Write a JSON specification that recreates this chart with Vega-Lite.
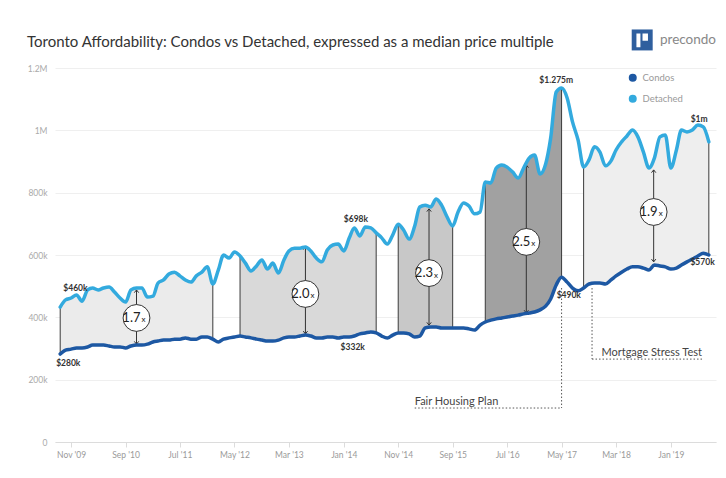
{
  "$schema": "https://vega.github.io/schema/vega-lite/v6.json",
  "width": 661,
  "height": 374,
  "autosize": {"type": "none"},
  "padding": {"left": 55, "top": 68, "right": 10, "bottom": 36},
  "background": "white",
  "config": {"font": "Lato", "view": {"stroke": null}},
  "title": {
    "text": "Toronto Affordability: Condos vs Detached, expressed as a median price multiple",
    "anchor": "start", "frame": "group", "dx": -28, "offset": 0, "dy": 36, "baseline": "bottom",
    "fontSize": 15, "fontWeight": "normal", "color": "#333333", "font": "Lato"
  },
  "datasets": {
    "prices": [
      {"d":"2009-09","Condos":282,"Detached":433,"band":"A"},
      {"d":"2009-10","Condos":295,"Detached":456,"band":"A"},
      {"d":"2009-11","Condos":298,"Detached":462,"band":"A"},
      {"d":"2009-12","Condos":302,"Detached":472,"band":"A"},
      {"d":"2010-01","Condos":302,"Detached":452,"band":"A"},
      {"d":"2010-02","Condos":305,"Detached":488,"band":"A"},
      {"d":"2010-03","Condos":311,"Detached":494,"band":"A"},
      {"d":"2010-04","Condos":311,"Detached":488,"band":"A"},
      {"d":"2010-05","Condos":311,"Detached":494,"band":"A"},
      {"d":"2010-06","Condos":308,"Detached":497,"band":"A"},
      {"d":"2010-07","Condos":305,"Detached":481,"band":"A"},
      {"d":"2010-08","Condos":305,"Detached":462,"band":"A"},
      {"d":"2010-09","Condos":302,"Detached":449,"band":"A"},
      {"d":"2010-10","Condos":308,"Detached":488,"band":"A"},
      {"d":"2010-11","Condos":311,"Detached":494,"band":"A"},
      {"d":"2010-12","Condos":311,"Detached":494,"band":"A"},
      {"d":"2011-01","Condos":314,"Detached":465,"band":"A"},
      {"d":"2011-02","Condos":321,"Detached":468,"band":"A"},
      {"d":"2011-03","Condos":324,"Detached":510,"band":"A"},
      {"d":"2011-04","Condos":327,"Detached":520,"band":"A"},
      {"d":"2011-05","Condos":327,"Detached":539,"band":"A"},
      {"d":"2011-06","Condos":330,"Detached":545,"band":"A"},
      {"d":"2011-07","Condos":330,"Detached":533,"band":"A"},
      {"d":"2011-08","Condos":334,"Detached":520,"band":"A"},
      {"d":"2011-09","Condos":330,"Detached":513,"band":"A"},
      {"d":"2011-10","Condos":330,"Detached":533,"band":"A"},
      {"d":"2011-11","Condos":337,"Detached":545,"band":"A"},
      {"d":"2011-12","Condos":337,"Detached":562,"band":"A"},
      {"d":"2012-01","Condos":330,"Detached":507,"band":"A"},
      {"d":"2012-02","Condos":321,"Detached":552},
      {"d":"2012-03","Condos":330,"Detached":600},
      {"d":"2012-04","Condos":334,"Detached":590},
      {"d":"2012-05","Condos":337,"Detached":610},
      {"d":"2012-06","Condos":340,"Detached":597,"band":"B"},
      {"d":"2012-07","Condos":337,"Detached":574,"band":"B"},
      {"d":"2012-08","Condos":334,"Detached":549,"band":"B"},
      {"d":"2012-09","Condos":330,"Detached":565,"band":"B"},
      {"d":"2012-10","Condos":327,"Detached":584,"band":"B"},
      {"d":"2012-11","Condos":324,"Detached":555,"band":"B"},
      {"d":"2012-12","Condos":324,"Detached":574,"band":"B"},
      {"d":"2013-01","Condos":327,"Detached":542,"band":"B"},
      {"d":"2013-02","Condos":334,"Detached":584,"band":"B"},
      {"d":"2013-03","Condos":337,"Detached":613,"band":"B"},
      {"d":"2013-04","Condos":337,"Detached":622,"band":"B"},
      {"d":"2013-05","Condos":340,"Detached":622,"band":"B"},
      {"d":"2013-06","Condos":343,"Detached":626,"band":"B"},
      {"d":"2013-07","Condos":340,"Detached":613,"band":"B"},
      {"d":"2013-08","Condos":334,"Detached":590,"band":"B"},
      {"d":"2013-09","Condos":334,"Detached":578,"band":"B"},
      {"d":"2013-10","Condos":337,"Detached":616,"band":"B"},
      {"d":"2013-11","Condos":337,"Detached":632,"band":"B"},
      {"d":"2013-12","Condos":334,"Detached":635,"band":"B"},
      {"d":"2014-01","Condos":337,"Detached":613,"band":"B"},
      {"d":"2014-02","Condos":337,"Detached":655,"band":"B"},
      {"d":"2014-03","Condos":340,"Detached":687,"band":"B"},
      {"d":"2014-04","Condos":347,"Detached":661,"band":"B"},
      {"d":"2014-05","Condos":350,"Detached":690,"band":"B"},
      {"d":"2014-06","Condos":353,"Detached":687,"band":"B"},
      {"d":"2014-07","Condos":350,"Detached":671,"band":"B"},
      {"d":"2014-08","Condos":340,"Detached":655},
      {"d":"2014-09","Condos":334,"Detached":635},
      {"d":"2014-10","Condos":343,"Detached":664},
      {"d":"2014-11","Condos":350,"Detached":699,"band":"C"},
      {"d":"2014-12","Condos":350,"Detached":680,"band":"C"},
      {"d":"2015-01","Condos":347,"Detached":651,"band":"C"},
      {"d":"2015-02","Condos":337,"Detached":693,"band":"C"},
      {"d":"2015-03","Condos":340,"Detached":754,"band":"C"},
      {"d":"2015-04","Condos":366,"Detached":760,"band":"C"},
      {"d":"2015-05","Condos":369,"Detached":754,"band":"C"},
      {"d":"2015-06","Condos":369,"Detached":780,"band":"C"},
      {"d":"2015-07","Condos":366,"Detached":760,"band":"C"},
      {"d":"2015-08","Condos":366,"Detached":722,"band":"C"},
      {"d":"2015-09","Condos":366,"Detached":693,"band":"C"},
      {"d":"2015-10","Condos":366,"Detached":738},
      {"d":"2015-11","Condos":366,"Detached":767},
      {"d":"2015-12","Condos":363,"Detached":757},
      {"d":"2016-01","Condos":359,"Detached":732},
      {"d":"2016-02","Condos":375,"Detached":738},
      {"d":"2016-03","Condos":385,"Detached":834,"band":"D"},
      {"d":"2016-04","Condos":391,"Detached":831,"band":"D"},
      {"d":"2016-05","Condos":395,"Detached":879,"band":"D"},
      {"d":"2016-06","Condos":398,"Detached":889,"band":"D"},
      {"d":"2016-07","Condos":401,"Detached":882,"band":"D"},
      {"d":"2016-08","Condos":404,"Detached":866,"band":"D"},
      {"d":"2016-09","Condos":407,"Detached":847,"band":"D"},
      {"d":"2016-10","Condos":411,"Detached":879,"band":"D"},
      {"d":"2016-11","Condos":414,"Detached":911,"band":"D"},
      {"d":"2016-12","Condos":417,"Detached":921,"band":"D"},
      {"d":"2017-01","Condos":424,"Detached":860,"band":"D"},
      {"d":"2017-02","Condos":436,"Detached":892,"band":"D"},
      {"d":"2017-03","Condos":459,"Detached":975,"band":"D"},
      {"d":"2017-04","Condos":504,"Detached":1123,"band":"D"},
      {"d":"2017-05","Condos":529,"Detached":1136,"band":"D"},
      {"d":"2017-06","Condos":513,"Detached":1104},
      {"d":"2017-07","Condos":494,"Detached":1027},
      {"d":"2017-08","Condos":485,"Detached":969},
      {"d":"2017-09","Condos":494,"Detached":882,"band":"E"},
      {"d":"2017-10","Condos":507,"Detached":905,"band":"E"},
      {"d":"2017-11","Condos":510,"Detached":947,"band":"E"},
      {"d":"2017-12","Condos":510,"Detached":930,"band":"E"},
      {"d":"2018-01","Condos":507,"Detached":886,"band":"E"},
      {"d":"2018-02","Condos":520,"Detached":902,"band":"E"},
      {"d":"2018-03","Condos":533,"Detached":937,"band":"E"},
      {"d":"2018-04","Condos":545,"Detached":963,"band":"E"},
      {"d":"2018-05","Condos":555,"Detached":982,"band":"E"},
      {"d":"2018-06","Condos":562,"Detached":1001,"band":"E"},
      {"d":"2018-07","Condos":562,"Detached":979,"band":"E"},
      {"d":"2018-08","Condos":558,"Detached":930,"band":"E"},
      {"d":"2018-09","Condos":552,"Detached":879,"band":"E"},
      {"d":"2018-10","Condos":568,"Detached":911,"band":"E"},
      {"d":"2018-11","Condos":565,"Detached":979,"band":"E"},
      {"d":"2018-12","Condos":562,"Detached":985,"band":"E"},
      {"d":"2019-01","Condos":555,"Detached":879,"band":"E"},
      {"d":"2019-02","Condos":558,"Detached":937,"band":"E"},
      {"d":"2019-03","Condos":568,"Detached":1001,"band":"E"},
      {"d":"2019-04","Condos":578,"Detached":995,"band":"E"},
      {"d":"2019-05","Condos":587,"Detached":1001,"band":"E"},
      {"d":"2019-06","Condos":597,"Detached":1017,"band":"E"},
      {"d":"2019-07","Condos":606,"Detached":1011,"band":"E"},
      {"d":"2019-08","Condos":600,"Detached":963,"band":"E"}
    ],
    "edges": [
      {"d":"2009-09"},{"d":"2012-01"},{"d":"2012-06"},{"d":"2014-07"},{"d":"2014-11"},
      {"d":"2015-09"},{"d":"2016-03"},{"d":"2017-05"},{"d":"2017-09"},{"d":"2019-08"}
    ],
    "multiples": [
      {"d":"2010-11-01","lo":314,"hi":488,"mid":398,"m":"1.7"},
      {"d":"2013-06-01","lo":347,"hi":626,"mid":475,"m":"2.0"},
      {"d":"2015-04-22","lo":375,"hi":748,"mid":542,"m":"2.3"},
      {"d":"2016-10-16","lo":414,"hi":889,"mid":642,"m":"2.5"},
      {"d":"2018-09-27","lo":578,"hi":873,"mid":738,"m":"1.9"}
    ],
    "labels": [
      {"d":"2009-11-25","v":494,"text":"$460k"},
      {"d":"2009-10-16","v":252,"text":"$280k"},
      {"d":"2014-03-10","v":715,"text":"$698k"},
      {"d":"2014-02-20","v":306,"text":"$332k"},
      {"d":"2017-04-01","v":1162,"text":"$1.275m"},
      {"d":"2017-06-10","v":471,"text":"$490k"},
      {"d":"2019-06-08","v":1035,"text":"$1m"},
      {"d":"2019-06-27","v":577,"text":"$570k"}
    ],
    "events": [
      {"name":"Fair Housing Plan","d":"2017-05-01","from":"2015-02-01","to":"2017-05-01","top":494,"base":109},
      {"name":"Mortgage Stress Test","d":"2017-10-18","from":"2017-10-18","to":"2019-06-24","top":494,"base":266}
    ]
  },
  "layer": [
    {
      "encoding": {
        "x": {
          "field": "d", "type": "temporal", "title": null,
          "scale": {"type": "utc", "domain": [{"year":2009,"month":8,"date":3,"utc":true},{"year":2019,"month":9,"date":10,"utc":true}]},
          "axis": {
            "values": [
              {"year":2009,"month":11,"date":1,"utc":true},
              {"year":2010,"month":9,"date":1,"utc":true},
              {"year":2011,"month":7,"date":1,"utc":true},
              {"year":2012,"month":5,"date":1,"utc":true},
              {"year":2013,"month":3,"date":1,"utc":true},
              {"year":2014,"month":1,"date":1,"utc":true},
              {"year":2014,"month":11,"date":1,"utc":true},
              {"year":2015,"month":9,"date":1,"utc":true},
              {"year":2016,"month":7,"date":1,"utc":true},
              {"year":2017,"month":5,"date":1,"utc":true},
              {"year":2018,"month":3,"date":1,"utc":true},
              {"year":2019,"month":1,"date":1,"utc":true}
            ],
            "format": "%b '%y", "grid": false, "domainColor": "#dcdcdc", "tickColor": "#dcdcdc",
            "tickSize": 5, "labelColor": "#9a9a9a", "labelFontSize": 8.5, "labelPadding": 3
          }
        }
      },
      "layer": [
        {
          "data": {"name": "prices"},
          "transform": [{"filter": "isValid(datum.band)"}],
          "mark": {"type": "area", "interpolate": "monotone", "opacity": 1},
          "encoding": {
            "y": {
              "field": "Condos", "type": "quantitative", "title": null,
              "scale": {"domain": [0, 1200], "nice": false},
              "axis": {
                "values": [0, 200, 400, 600, 800, 1000, 1200],
                "labelExpr": "datum.value >= 1000 ? (datum.value / 1000) + 'M' : (datum.value == 0 ? '0' : datum.value + 'k')",
                "domain": false, "ticks": false, "gridColor": "#efefef",
                "labelColor": "#aaaaaa", "labelFontSize": 8.5, "labelPadding": 8
              }
            },
            "y2": {"field": "Detached"},
            "fill": {
              "field": "band", "type": "nominal", "legend": null,
              "scale": {"domain": ["A", "B", "C", "D", "E"], "range": ["#ebebeb", "#d9d9d9", "#c8c8c8", "#a1a1a1", "#eeeeee"]}
            }
          }
        },
        {
          "data": {"name": "edges"},
          "transform": [{"lookup": "d", "from": {"data": {"name": "prices"}, "key": "d", "fields": ["Condos", "Detached"]}}],
          "mark": {"type": "rule", "color": "#3a3a3a", "strokeWidth": 1},
          "encoding": {
            "y": {"field": "Condos", "type": "quantitative", "title": null},
            "y2": {"field": "Detached"}
          }
        },
        {
          "data": {"name": "multiples"},
          "mark": {"type": "rule", "color": "#333333", "strokeWidth": 1},
          "encoding": {
            "y": {"field": "lo", "type": "quantitative", "title": null},
            "y2": {"field": "hi"}
          }
        },
        {
          "data": {"name": "multiples"},
          "mark": {"type": "point", "shape": "M-0.8,1L0,0L0.8,1", "filled": false, "stroke": "#333333", "strokeWidth": 1, "size": 30, "opacity": 1},
          "encoding": {"y": {"field": "hi", "type": "quantitative", "title": null}}
        },
        {
          "data": {"name": "multiples"},
          "mark": {"type": "point", "shape": "M-0.8,-1L0,0L0.8,-1", "filled": false, "stroke": "#333333", "strokeWidth": 1, "size": 30, "opacity": 1},
          "encoding": {"y": {"field": "lo", "type": "quantitative", "title": null}}
        },
        {
          "data": {"name": "multiples"},
          "mark": {"type": "point", "shape": "circle", "filled": true, "fill": "white", "stroke": "#333333", "strokeWidth": 1, "size": 720, "opacity": 1},
          "encoding": {"y": {"field": "mid", "type": "quantitative", "title": null}}
        },
        {
          "data": {"name": "multiples"},
          "mark": {"type": "text", "align": "right", "baseline": "middle", "dx": 4, "fontSize": 13, "color": "#222222"},
          "encoding": {"y": {"field": "mid", "type": "quantitative", "title": null}, "text": {"field": "m"}}
        },
        {
          "data": {"name": "multiples"},
          "mark": {"type": "text", "text": "x", "align": "left", "baseline": "middle", "dx": 5, "dy": 2.5, "fontSize": 8, "color": "#222222"},
          "encoding": {"y": {"field": "mid", "type": "quantitative", "title": null}}
        },
        {
          "data": {"name": "prices"},
          "transform": [{"fold": ["Condos", "Detached"], "as": ["series", "price"]}],
          "mark": {"type": "line", "interpolate": "monotone", "strokeWidth": 3.5, "strokeCap": "round", "strokeJoin": "round"},
          "encoding": {
            "y": {"field": "price", "type": "quantitative", "title": null},
            "color": {
              "field": "series", "type": "nominal",
              "scale": {"domain": ["Condos", "Detached"], "range": ["#1d58a3", "#33aade"]},
              "legend": {
                "title": null, "orient": "none", "legendX": 573, "legendY": 5,
                "symbolType": "circle", "symbolSize": 16, "symbolStrokeWidth": 4,
                "labelFontSize": 9.5, "labelColor": "#9a9a9a", "labelOffset": 5, "rowPadding": 0
              }
            }
          }
        },
        {
          "data": {"name": "labels"},
          "mark": {"type": "text", "align": "center", "baseline": "middle", "fontSize": 8.5, "fontWeight": "bold", "color": "#333333"},
          "encoding": {"y": {"field": "v", "type": "quantitative", "title": null}, "text": {"field": "text"}}
        },
        {
          "data": {"name": "events"},
          "mark": {"type": "rule", "color": "#555555", "strokeWidth": 1, "strokeDash": [1.5, 2]},
          "encoding": {"y": {"field": "top", "type": "quantitative", "title": null}, "y2": {"field": "base"}}
        },
        {
          "data": {"name": "events"},
          "mark": {"type": "rule", "color": "#555555", "strokeWidth": 1, "strokeDash": [1.5, 2]},
          "encoding": {
            "x": {"field": "from", "type": "temporal"},
            "x2": {"field": "to"},
            "y": {"field": "base", "type": "quantitative", "title": null}
          }
        },
        {
          "data": {"name": "events"},
          "transform": [{"filter": "datum.name == 'Fair Housing Plan'"}],
          "mark": {"type": "text", "align": "left", "baseline": "bottom", "dy": -1, "fontSize": 11, "color": "#444444"},
          "encoding": {
            "x": {"field": "from", "type": "temporal"},
            "y": {"field": "base", "type": "quantitative", "title": null},
            "text": {"field": "name"}
          }
        },
        {
          "data": {"name": "events"},
          "transform": [{"filter": "datum.name == 'Mortgage Stress Test'"}],
          "mark": {"type": "text", "align": "right", "baseline": "bottom", "dy": -1, "fontSize": 11, "color": "#444444"},
          "encoding": {
            "x": {"field": "to", "type": "temporal"},
            "y": {"field": "base", "type": "quantitative", "title": null},
            "text": {"field": "name"}
          }
        }
      ]
    },
    {
      "data": {"values": [{}]},
      "mark": {"type": "point", "shape": "square", "filled": true, "fill": "#2f5f9e", "size": 440, "opacity": 1},
      "encoding": {
        "x": {"datum": {"year": 2018, "month": 7, "date": 25, "utc": true}, "type": "temporal"},
        "y": {"datum": 1290, "type": "quantitative"}
      }
    },
    {
      "data": {"values": [{}]},
      "mark": {"type": "point", "shape": "M-0.55,-0.62H-0.17V0.7H-0.55Z M0.03,-0.62H0.55V0.08H0.03Z", "filled": true, "fill": "white", "size": 440, "opacity": 1},
      "encoding": {
        "x": {"datum": {"year": 2018, "month": 7, "date": 25, "utc": true}, "type": "temporal"},
        "y": {"datum": 1290, "type": "quantitative"}
      }
    },
    {
      "data": {"values": [{}]},
      "mark": {"type": "text", "text": "precondo", "align": "left", "baseline": "middle", "fontSize": 13.5, "color": "#888888"},
      "encoding": {
        "x": {"datum": {"year": 2018, "month": 11, "date": 1, "utc": true}, "type": "temporal"},
        "y": {"datum": 1290, "type": "quantitative"}
      }
    }
  ]
}
